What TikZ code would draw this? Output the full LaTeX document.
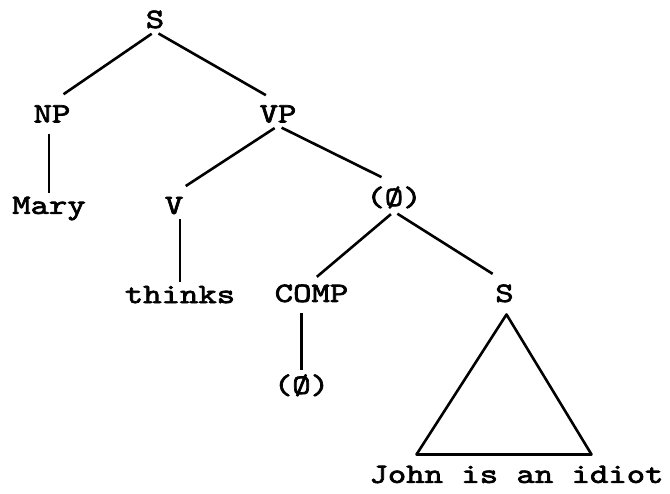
\documentclass[tikz,border=0pt]{standalone}
\usepackage{fontspec}
\usetikzlibrary{positioning,trees,calc}
\newfontfamily\typew[FakeStretch=1.25, FakeBold=2.5]{lmmono10-regular.otf}

\begin{document}
\begin{tikzpicture}[
x=1pt, y=1pt,
every node/.style={font=\typew\fontsize{28}{28}\selectfont, anchor=base, inner sep=3pt},
level distance=103pt,
level 1/.style={sibling distance=226pt},
level 2/.style={sibling distance=220pt, level distance=100pt},
level 3/.style={sibling distance=193pt, level distance=97.5pt},
level 4/.style={level distance=100.5pt},
edge from parent/.style={draw, line width=2.6pt, shorten <=4pt, shorten >=14pt},
edge from parent path={(\tikzparentnode.south) -- (\tikzchildnode.north)},
% single daughters hang straight down
stem/.style={
	edge from parent/.style={draw, line width=2.6pt, shorten <=8pt, shorten >=1pt},
	edge from parent path={(\tikzchildnode.north |- \tikzparentnode.south) -- (\tikzchildnode.north)}},
]
\useasboundingbox (0,0) rectangle (670,-494);
	\node (s) at (155,-28) {S} %root
		child[xshift=10pt]{ node (np) {NP}
			child[xshift=-3pt, stem]{node (mary) {Mary}}
		}
		child[xshift=10pt]{ node (vp) {VP}
			child[xshift=6pt]{node (v) {V}
				child[xshift=6pt, stem]{node (thinks) {thinks}
				edge from parent[shorten <=2pt]}
			}
			child[xshift=6pt]{node[yshift=8pt] (cp) {(Ø)}
				child[xshift=14pt, yshift=-7pt]{node (comp) {COMP}
					child[xshift=-10pt, stem]{node (nul) {(Ø)}}
					edge from parent[shorten >=7pt]
				}
				child[xshift=14pt, yshift=-7pt]{node (s2) {S}
					% roof over the whole clause
					child[xshift=12pt, yshift=-89pt,
						edge from parent path={($(\tikzparentnode.south)+(2,-9)$) -- ++(-90,-140) -- ++(175,0) -- cycle}]
						{node (john) {John is an idiot}
						edge from parent[shorten <=0pt, shorten >=0pt, line join=round]}
				}
			}
	};
\end{tikzpicture}
\end{document}
